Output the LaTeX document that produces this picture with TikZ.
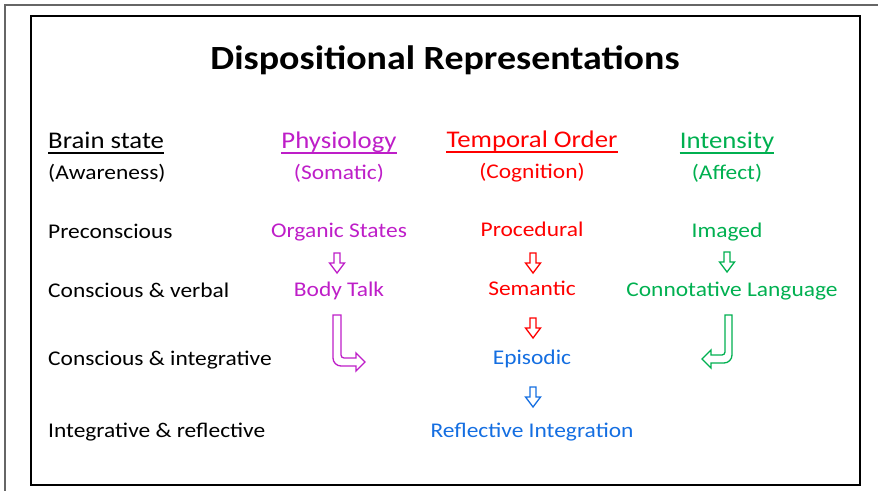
\documentclass[tikz,border=0pt]{standalone}
\usepackage{fontspec}
\setmainfont{Carlito}
\usetikzlibrary{calc}
\definecolor{somaticcol}{RGB}{190,30,200}
\definecolor{cognitioncol}{RGB}{255,0,0}
\definecolor{affectcol}{RGB}{0,176,80}
\definecolor{integcol}{RGB}{20,110,225}
\tikzset{
  title text/.style={font=\fontsize{34}{40}\selectfont\bfseries, inner sep=0pt, anchor=base},
  header text/.style={font=\fontsize{24}{28}\selectfont, inner sep=0pt, anchor=base},
  body text/.style={font=\fontsize{21}{25}\selectfont, inner sep=0pt, anchor=base},
  row label/.style={body text, anchor=base west},
  header rule/.style={line width=1.6bp},
  block arrow/.style={line width=1.3bp, line join=miter, fill=white},
  outer frame/.style={line width=1.5bp, black!60},
  inner frame/.style={line width=2bp, black},
}
\newcommand{\stretchtxt}[1]{\scalebox{1.12}[1]{#1}}
% rule under a header node
\newcommand{\ruleUnder}[2]{
  \draw[header rule, #2] ([yshift=-4bp]#1.base west) -- ([yshift=-4bp]#1.base east);
}
% hollow down arrow, #2 = top centre
\newcommand{\hollowDown}[2]{
  \draw[block arrow, draw=#1] #2 ++(-3,0) -- ++(0,10) -- ++(-4.5,0) -- ++(7.5,10)
    -- ++(7.5,-10) -- ++(-4.5,0) -- ++(0,-10) -- cycle;
}

\begin{document}
\begin{tikzpicture}[x=1bp, y=-1bp]
  \useasboundingbox (0,0) rectangle (878,491);
  \draw[outer frame] (5,491) -- (5,5) -- (878,5);
  \draw[inner frame] (31,16) rectangle (860,485);

  \node[title text] (title) at (445,70) {\stretchtxt{Dispositional Representations}};

  % column headers
  \node[header text, anchor=base west] (brain) at (48,149) {\stretchtxt{Brain state}};
  \node[header text, somaticcol] (physiology) at (339,149) {\stretchtxt{Physiology}};
  \node[header text, cognitioncol] (temporal) at (532,148) {\stretchtxt{Temporal Order}};
  \node[header text, affectcol] (intensity) at (727,149) {\stretchtxt{Intensity}};
  \ruleUnder{brain}{black}
  \ruleUnder{physiology}{somaticcol}
  \ruleUnder{temporal}{cognitioncol}
  \ruleUnder{intensity}{affectcol}

  \node[row label] (awareness) at (48,180) {\stretchtxt{(Awareness)}};
  \node[body text, somaticcol] (somatic) at (339,180) {\stretchtxt{(Somatic)}};
  \node[body text, cognitioncol] (cognition) at (532,179) {\stretchtxt{(Cognition)}};
  \node[body text, affectcol] (affect) at (727,180) {\stretchtxt{(Affect)}};

  % rows
  \node[row label] (preconscious) at (48,239) {\stretchtxt{Preconscious}};
  \node[row label] (consverbal) at (48,298) {\stretchtxt{Conscious \& verbal}};
  \node[row label] (consinteg) at (48,365) {\stretchtxt{Conscious \& integrative}};
  \node[row label] (integrefl) at (48,437) {\stretchtxt{Integrative \& reflective}};

  % entries
  \node[body text, somaticcol] (organic) at (339,238) {\stretchtxt{Organic States}};
  \node[body text, somaticcol] (bodytalk) at (339,297) {\stretchtxt{Body Talk}};
  \node[body text, cognitioncol] (procedural) at (532,237) {\stretchtxt{Procedural}};
  \node[body text, cognitioncol] (semantic) at (532,296) {\stretchtxt{Semantic}};
  \node[body text, integcol] (episodic) at (532,364) {\stretchtxt{Episodic}};
  \node[body text, integcol] (reflective) at (532,437) {\stretchtxt{Reflective Integration}};
  \node[body text, affectcol] (imaged) at (727,238) {\stretchtxt{Imaged}};
  \node[body text, affectcol] (connotative) at (732,297) {\stretchtxt{Connotative Language}};

  % block arrows
  \hollowDown{somaticcol}{(337,253)}
  \hollowDown{cognitioncol}{(533,253)}
  \hollowDown{cognitioncol}{(533,318)}
  \hollowDown{integcol}{(533,387)}
  \hollowDown{affectcol}{(727,252)}

  \draw[block arrow, draw=somaticcol] (333,315) -- (341,315) [rounded corners=3bp] -- (341,358)
    [sharp corners] -- (356,358) -- (356,353) -- (365,362) -- (356,371) -- (356,366)
    [rounded corners=8bp] -- (333,366) [sharp corners] -- cycle;
  \draw[block arrow, draw=affectcol] (732,315) -- (725,315) [rounded corners=3bp] -- (725,355)
    [sharp corners] -- (711,355) -- (711,350) -- (702,359) -- (711,368) -- (711,363)
    [rounded corners=8bp] -- (732,363) [sharp corners] -- cycle;
\end{tikzpicture}
\end{document}
